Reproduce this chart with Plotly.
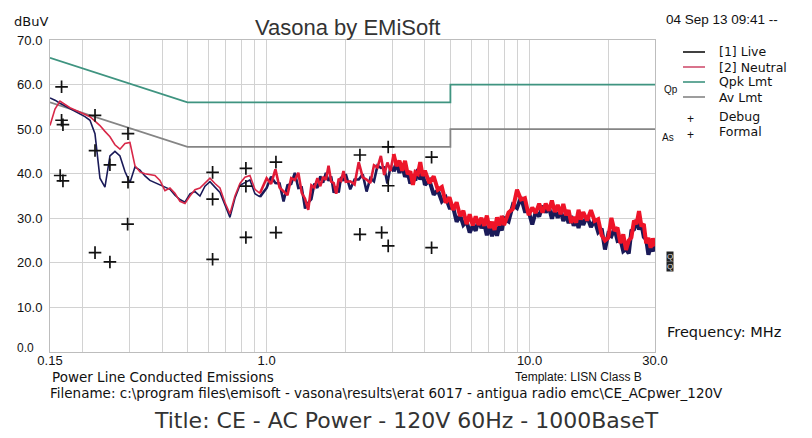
import plotly.graph_objects as go

# ---------------- data ----------------
low_freq = [0.150, 0.1567, 0.1637, 0.1710, 0.1787, 0.1867, 0.1950, 0.2037, 0.2129, 0.2224,
            0.2323, 0.2427, 0.2536, 0.2649, 0.2768, 0.2892, 0.3021, 0.3156, 0.3298, 0.3445,
            0.3599, 0.3760, 0.3929, 0.4105, 0.4288, 0.4480, 0.4681, 0.4891, 0.5110, 0.5338,
            0.5577, 0.5827, 0.6088, 0.6360, 0.6645, 0.6943, 0.7253, 0.7577, 0.7917, 0.8270,
            0.8640, 0.9027, 0.9431]
neutral_low = [50.8, 54.5, 56.3, 55.5, 54.8, 54.3, 53.8, 53.3, 52.8, 51.8,
               50.8, 49.5, 48.3, 46.5, 45.5, 46.8, 47.0, 41.8, 40.4, 40.0,
               39.8, 39.6, 38.5, 36.2, 36.8, 35.6, 33.8, 33.3, 35.0, 36.4,
               36.8, 38.0, 39.0, 37.8, 36.8, 33.5, 31.0, 35.0, 37.8, 39.2,
               39.6, 36.5, 35.6]
live_low = [57.0, 56.5, 55.8, 55.2, 54.6, 54.1, 53.5, 52.8, 52.0, 49.0,
            39.0, 37.0, 44.0, 45.0, 44.0, 40.5, 38.0, 41.5, 40.8, 39.5,
            38.5, 38.0, 37.5, 37.0, 36.5, 35.2, 34.2, 33.6, 35.5, 36.0,
            35.0, 37.2, 38.2, 37.0, 35.8, 33.0, 30.2, 34.5, 37.4, 38.0,
            38.6, 35.5, 34.8]

hf_freq = [1.00, 1.04, 1.08, 1.12, 1.16, 1.20, 1.24, 1.28, 1.32, 1.36, 1.40, 1.44, 1.48,
           1.52, 1.56, 1.60, 1.64, 1.68, 1.72, 1.76, 1.80, 1.84, 1.88, 1.92, 1.96,
           2.00, 2.08, 2.16, 2.24, 2.32, 2.40, 2.48, 2.56, 2.64, 2.72, 2.80, 2.88, 2.96,
           3.04, 3.12, 3.20, 3.28, 3.36, 3.44, 3.52, 3.60, 3.68, 3.76, 3.84, 3.92,
           4.00, 4.16, 4.32, 4.48, 4.64, 4.80, 4.96, 5.12, 5.28, 5.44, 5.60, 5.76, 5.92,
           6.08, 6.24, 6.40, 6.56, 6.72, 6.88, 7.04, 7.20, 7.36, 7.52, 7.68, 7.84,
           8.00, 8.32, 8.64, 8.96, 9.28, 9.60, 9.92, 10.24, 10.56, 10.88, 11.20, 11.52, 11.84,
           12.16, 12.48, 12.80, 13.12, 13.44, 13.76, 14.08, 14.40, 14.72, 15.04, 15.36, 15.68,
           16.00, 16.56, 17.12, 17.68, 18.24, 18.80, 19.36, 19.92, 20.48, 21.04, 21.60, 22.16,
           22.72, 23.28, 23.84, 24.40, 24.96, 25.52, 26.08, 26.64, 27.20, 27.76, 28.32, 28.88,
           29.44, 30.00]
neutral_hf = [39.0, 37.7, 41.0, 36.9, 36.0, 35.2, 39.0, 38.6, 40.2, 35.7, 34.4, 31.9, 37.4,
              36.9, 39.0, 37.2, 39.3, 38.6, 41.8, 38.2, 37.9, 35.5, 38.9, 38.4, 40.6,
              38.2, 38.3, 37.6, 42.6, 39.2, 38.7, 37.9, 41.9, 41.4, 44.0, 39.7, 42.5, 40.6,
              44.4, 41.7, 42.9, 40.7, 42.9, 39.9, 40.5, 37.5, 40.3, 39.9, 42.6, 39.5,
              40.7, 37.9, 39.4, 36.4, 37.0, 33.5, 34.7, 31.9, 33.6, 30.5, 31.7, 28.7, 30.9,
              28.4, 30.4, 28.5, 30.1, 28.3, 30.6, 27.8, 29.2, 27.4, 30.2, 28.4, 30.5,
              28.5, 31.3, 32.1, 36.4, 34.2, 34.5, 30.7, 32.4, 31.2, 33.3, 31.3, 33.3, 31.7,
              34.0, 31.4, 33.0, 30.9, 33.2, 30.7, 31.8, 29.0, 30.3, 29.0, 31.9, 29.7,
              31.4, 29.5, 31.8, 29.4, 29.8, 26.2, 25.0, 25.6, 30.1, 27.2, 27.9, 24.4,
              26.4, 22.9, 25.0, 25.7, 29.5, 28.7, 31.6, 28.2, 28.7, 24.4, 25.6, 23.4,
              25.5, 23.7]
live_hf = [36.8, 39.3, 37.9, 37.8, 33.8, 37.4, 37.7, 40.2, 36.8, 36.9, 32.2, 33.5, 34.3,
           37.8, 36.8, 39.4, 38.0, 40.2, 38.4, 39.4, 35.7, 37.1, 35.8, 39.3, 38.4,
           39.9, 36.5, 38.7, 38.7, 39.9, 36.0, 39.0, 38.3, 41.8, 41.3, 41.4, 37.8, 41.7,
           40.5, 42.4, 40.2, 41.8, 39.3, 40.3, 37.8, 39.2, 38.5, 41.0, 38.7, 40.2,
           37.5, 38.5, 35.3, 36.3, 33.8, 34.7, 32.4, 32.5, 29.2, 30.7, 28.5, 29.3, 26.8,
           28.3, 27.2, 29.7, 27.8, 28.9, 26.2, 28.0, 26.0, 28.0, 26.1, 28.3, 27.3,
           30.0, 29.3, 33.0, 32.3, 34.7, 31.6, 31.6, 28.6, 31.4, 30.4, 32.8, 31.3, 32.6,
           29.9, 31.9, 30.1, 31.8, 29.4, 30.9, 28.9, 30.5, 28.3, 29.9, 27.8, 30.2,
           28.5, 30.4, 28.0, 29.6, 26.9, 27.7, 23.0, 26.5, 26.0, 27.7, 25.0, 25.3,
           22.6, 23.1, 22.1, 27.2, 27.5, 29.6, 27.5, 28.7, 25.8, 25.3, 21.8, 23.6,
           22.6, 25.2]

lmt_freq = [0.15, 0.5, 5.0, 5.0, 30.0]
qpk_lmt = [66.0, 56.0, 56.0, 60.0, 60.0]
av_lmt = [56.0, 46.0, 46.0, 50.0, 50.0]

debug_freq = [0.166, 0.166, 0.168, 0.2225, 0.2535, 0.297, 0.623, 0.834, 1.085, 2.264, 2.90, 4.24]
debug_dbuv = [59.5, 52.0, 51.0, 53.1, 42.0, 49.0, 40.3, 41.2, 42.6, 44.2, 46.0, 43.7]
formal_freq = [0.164, 0.168, 0.2225, 0.2225, 0.2535, 0.297, 0.296, 0.623, 0.623, 0.834,
               0.834, 1.085, 2.264, 2.738, 2.90, 2.90, 4.24]
formal_dbuv = [39.6, 38.4, 45.2, 22.3, 20.2, 38.1, 28.7, 34.3, 20.8, 37.2,
               25.7, 26.8, 26.4, 26.8, 37.3, 23.8, 23.4]

x_tickvals = [0.15, 1.0, 10.0, 30.0]
x_ticktext = ["0.15", "1.0", "10.0", "30.0"]
x_minor = [0.2, 0.3, 0.4, 0.5, 0.6, 0.7, 0.8, 0.9, 2, 3, 4, 5, 6, 7, 8, 9, 20]
y_tickvals = [0, 10, 20, 30, 40, 50, 60, 70]
y_ticktext = ["0.0", "10.0", "20.0", "30.0", "40.0", "50.0", "60.0", "70.0"]

# ---------------- styles ----------------
C_LIVE = "#1a1a58"
C_NEUT = "#ee1428"
C_QPK = "#3f9480"
C_AV = "#858585"
GRID = "#d2d2d2"
OFF = 8                       # page body margin of the html page
W, H = 812 - OFF, 438 - OFF   # figure size so it fills the window
L, R, T, B = 50, 655, 40, 352  # plot area in window pixels
SPLIT = 38                    # index in hf arrays where the dense band becomes heavy


def px(x):
    return (x - L) / (R - L)


def py(y):
    return (B - y) / (B - T)


fig = go.Figure()
fig.add_trace(go.Scatter(x=lmt_freq, y=qpk_lmt, mode="lines", line=dict(color=C_QPK, width=1.8), name="Qpk Lmt"))
fig.add_trace(go.Scatter(x=lmt_freq, y=av_lmt, mode="lines", line=dict(color=C_AV, width=1.8), name="Av Lmt"))

live_parts = [
    (low_freq, live_low, 1.6),
    (low_freq[-1:] + hf_freq[:SPLIT + 1], live_low[-1:] + live_hf[:SPLIT + 1], 2.6),
    (hf_freq[SPLIT:], live_hf[SPLIT:], 4.0),
]
for xs, ys, w in live_parts:
    fig.add_trace(go.Scatter(x=xs, y=ys, mode="lines", line=dict(color=C_LIVE, width=w), name="[1] Live"))

neut_parts = [
    (low_freq, neutral_low, 1.6, "#d82848"),
    (low_freq[-1:] + hf_freq[:SPLIT + 1], neutral_low[-1:] + neutral_hf[:SPLIT + 1], 2.6, "#e21a36"),
    (hf_freq[SPLIT:], neutral_hf[SPLIT:], 4.0, C_NEUT),
]
for xs, ys, w, c in neut_parts:
    fig.add_trace(go.Scatter(x=xs, y=ys, mode="lines", line=dict(color=c, width=w), name="[2] Neutral"))

mk = dict(symbol="cross-thin", size=9, line=dict(color="#111111", width=1.7), color="#111111")
fig.add_trace(go.Scatter(x=debug_freq, y=debug_dbuv, mode="markers", marker=mk, name="Debug"))
fig.add_trace(go.Scatter(x=formal_freq, y=formal_dbuv, mode="markers", marker=mk, name="Formal"))

font_main = "Liberation Sans, Arial, sans-serif"
font_wide = "DejaVu Sans, Verdana, sans-serif"
font_tick = "Liberation Sans Narrow, Liberation Sans, Arial"

fig.update_layout(
    width=W, height=H,
    margin=dict(l=L - OFF, r=812 - R, t=T - OFF, b=438 - B, autoexpand=False),
    paper_bgcolor="white", plot_bgcolor="white",
    showlegend=False,
    font=dict(family=font_main, size=12, color="#111111"),
)
fig.update_xaxes(
    type="log", range=[-0.82391, 1.47712],
    tickvals=x_tickvals, ticktext=x_ticktext,
    showgrid=True, gridcolor=GRID, gridwidth=1,
    minor=dict(tickvals=x_minor, showgrid=True, gridcolor=GRID, gridwidth=1, ticks=""),
    ticks="", ticklabelstandoff=-4, showline=True, linecolor="#bdbdbd", mirror=True,
    tickfont=dict(family=font_tick, size=13, color="#111"),
    zeroline=False,
)
# the bottom "0.0" label sits further left/up in the reference: drawn separately below
fig.update_yaxes(
    range=[0, 70], tickvals=y_tickvals, ticktext=[""] + y_ticktext[1:],
    showgrid=True, gridcolor=GRID, gridwidth=1,
    ticks="", ticklabelstandoff=4, showline=True, linecolor="#bdbdbd", mirror=True,
    tickfont=dict(family=font_tick, size=13, color="#111"),
    zeroline=False,
)

ann = []
shapes = []


def text(x, y, s, size=13, anchor="left", color="#111111", family=font_main, **kw):
    ann.append(dict(x=px(x), y=py(y), xref="paper", yref="paper", text=s, showarrow=False,
                    xanchor=anchor, yanchor="middle", font=dict(size=size, color=color, family=family), **kw))


text(36, 348, y_ticktext[0], size=12, anchor="right", family=font_tick)

# header
text(347, 28, "Vasona by EMiSoft", size=22, anchor="center", color="#333333")
text(12, 22, "dBuV", size=13, family=font_wide)
text(664, 19, "04 Sep 13 09:41 --", size=13.5)

# legend
leg = [(52, "[1] Live", "#111111"), (67, "[2] Neutral", "#d05070"), (82, "Qpk Lmt", C_QPK), (97, "Av Lmt", C_AV)]
for y, label, col in leg:
    shapes.append(dict(type="line", xref="paper", yref="paper", x0=px(683), x1=px(705), y0=py(y), y1=py(y),
                       line=dict(color=col, width=1.6)))
    text(717, y, label, size=12.5, family=font_wide)
text(717, 116, "Debug", size=12.5, family=font_wide)
text(717, 132, "Formal", size=12.5, family=font_wide)
text(690, 119, "+", size=12, anchor="center")
text(690, 135, "+", size=12, anchor="center")
text(662, 89, "Qp", size=10)
text(660, 137, "As", size=10)

# trace end markers
text(666, 256, "Q", size=8, anchor="left", color="#dddddd", bgcolor="#222222", borderpad=0)
text(666, 266, "Q", size=8, anchor="left", color="#dddddd", bgcolor="#222222", borderpad=0)

text(665, 332, "Frequency: MHz", size=14.5, family=font_wide)

# footer
text(50, 377, "Power Line Conducted Emissions", size=13.5, family=font_wide)
text(513, 377, "Template: LISN Class B", size=12)
text(48, 393, r"Filename: c:\program files\emisoft - vasona\results\erat 6017 - antigua radio emc\CE_ACpwer_120V",
     size=13.5, family=font_wide)
text(406, 420, "Title: CE - AC Power - 120V 60Hz - 1000BaseT", size=22, anchor="center",
     color="#333333", family=font_wide)

fig.update_layout(annotations=ann, shapes=shapes)
fig.write_html("out.html")
